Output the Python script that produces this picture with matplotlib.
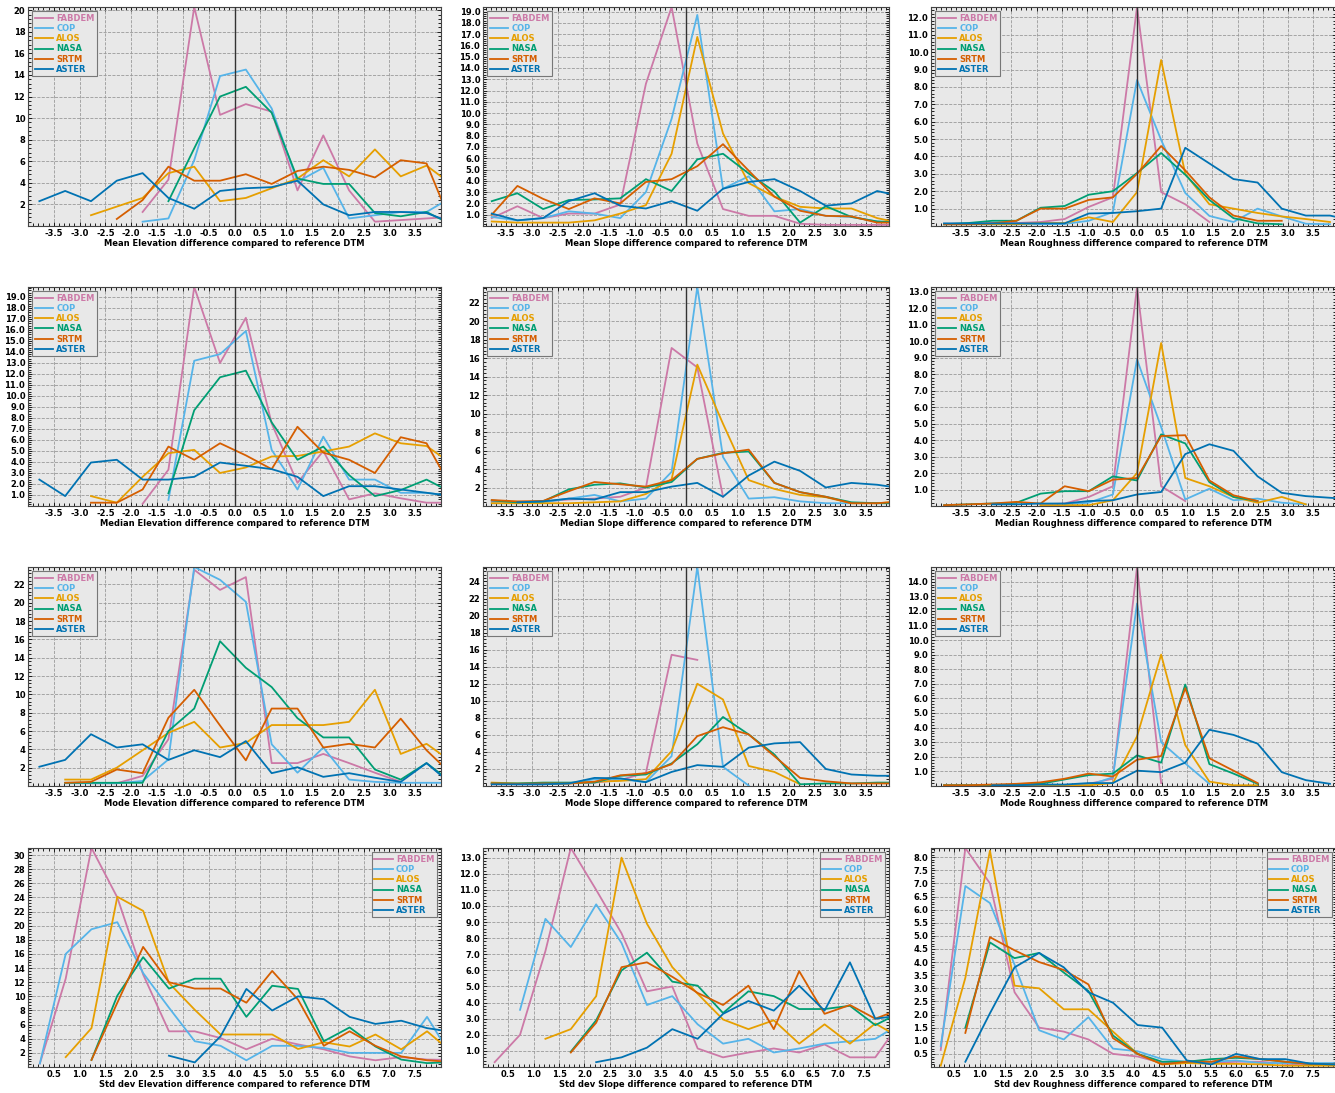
import numpy as np
import matplotlib
matplotlib.use("Agg")
import matplotlib.pyplot as plt
from matplotlib.ticker import AutoMinorLocator

nan = np.nan

dems = ["FABDEM", "COP", "ALOS", "NASA", "SRTM", "ASTER"]
colors = ["#CC79A7", "#56B4E9", "#E69F00", "#009E73", "#D55E00", "#0072B2"]

# bin centres
x_diff = [-3.78, -3.28, -2.78, -2.28, -1.78, -1.28, -0.78, -0.28, 0.22, 0.72,
          1.22, 1.72, 2.22, 2.72, 3.22, 3.72, 4.22]
x_rough = [-3.84, -3.36, -2.88, -2.40, -1.92, -1.44, -0.96, -0.48, 0.0, 0.48,
           0.96, 1.44, 1.92, 2.40, 2.88, 3.36, 3.84, 4.32]
x_std = [0.23, 0.73, 1.23, 1.73, 2.23, 2.73, 3.23, 3.73, 4.23, 4.73, 5.23,
         5.73, 6.23, 6.73, 7.23, 7.73, 8.23]
x_std_rough = [0.24, 0.72, 1.20, 1.68, 2.16, 2.64, 3.12, 3.60, 4.08, 4.56,
               5.04, 5.52, 6.00, 6.48, 6.96, 7.44, 7.92]

# rows follow the order of dems
mean_elevation = [
    [nan, nan, nan, nan, 1.3, 4.3, 20.3, 10.3, 11.3, 10.6, 3.3, 8.4, 3.3, 0.4, 0.55, 0.7, 0.85],
    [nan, nan, nan, nan, 0.4, 0.7, 6.1, 13.9, 14.5, 10.9, 4.1, 5.4, 0.7, 1.0, 1.3, 1.3, 2.7],
    [nan, nan, 1.0, 1.8, 2.6, 4.9, 5.5, 2.3, 2.6, 3.5, 4.4, 6.1, 4.6, 7.1, 4.6, 5.6, 3.8],
    [nan, nan, nan, nan, nan, 2.3, 7.2, 12.0, 12.9, 10.5, 4.4, 3.9, 3.9, 1.2, 0.9, 1.3, 0.1],
    [nan, nan, nan, 0.65, 2.4, 5.5, 4.2, 4.2, 4.8, 3.9, 5.1, 5.5, 5.2, 4.5, 6.1, 5.8, 0.0],
    [2.3, 3.25, 2.3, 4.2, 4.9, 2.6, 1.6, 3.25, 3.5, 3.6, 4.2, 2.0, 1.0, 1.3, 1.3, 1.2, 0.3],
]
mean_slope = [
    [0.7, 1.75, 0.7, 1.1, 1.1, 1.9, 12.6, 19.4, 7.3, 1.5, 0.9, 0.9, 0.2, 0.1, 0.1, 0.1, 0.1],
    [0.8, 0.5, 0.7, 1.3, 1.1, 0.7, 3.0, 9.5, 18.7, 3.3, 4.4, 1.3, 1.5, 0.9, 0.8, 0.4, 0.3],
    [0.4, 0.3, 0.3, 0.3, 0.5, 1.1, 1.85, 6.4, 16.75, 8.2, 3.8, 2.6, 1.7, 1.55, 1.55, 0.7, 0.2],
    [2.2, 2.9, 1.5, 2.3, 2.35, 2.45, 4.15, 3.1, 5.9, 6.4, 4.65, 3.05, 0.3, 1.75, 0.8, 0.4, 0.3],
    [1.0, 3.55, 2.4, 1.5, 2.45, 2.0, 3.9, 4.15, 5.3, 7.25, 4.9, 2.6, 1.35, 0.9, 0.85, 0.3, 0.3],
    [1.1, 0.5, 0.7, 2.2, 2.9, 1.8, 1.55, 2.2, 1.35, 3.3, 3.9, 4.15, 3.1, 1.8, 2.0, 3.1, 2.6],
]
mean_roughness = [
    [0.13, 0.13, 0.17, 0.17, 0.23, 0.4, 1.1, 1.65, 12.6, 1.95, 1.25, 0.23, nan, nan, nan, nan, nan, nan],
    [0.1, 0.1, 0.1, 0.1, 0.1, 0.12, 0.3, 0.8, 8.4, 4.95, 1.9, 0.58, 0.23, 1.0, 0.55, 0.13, 0.1, nan],
    [0.1, 0.1, 0.1, 0.1, 0.17, 0.17, 0.5, 0.23, 1.95, 9.55, 3.0, 1.25, 1.0, 0.75, 0.55, 0.4, 0.23, nan],
    [0.1, 0.17, 0.3, 0.3, 1.05, 1.15, 1.8, 2.0, 3.05, 4.2, 2.95, 1.5, 0.45, 0.15, 0.1, nan, nan, nan],
    [0.1, 0.1, 0.15, 0.3, 1.0, 1.0, 1.5, 1.65, 3.0, 4.6, 3.2, 1.65, 0.6, 0.3, 0.3, nan, nan, nan],
    [0.15, 0.15, 0.15, 0.15, 0.15, 0.15, 0.72, 0.75, 0.85, 1.0, 4.5, 3.6, 2.7, 2.5, 1.0, 0.6, 0.6, 0.3],
]
median_elevation = [
    [nan, nan, nan, nan, 0.2, 3.3, 19.9, 13.0, 17.1, 7.5, 2.1, 5.0, 0.6, 1.15, 0.7, 0.3, 0.3],
    [nan, nan, nan, nan, nan, 0.55, 13.2, 13.8, 15.9, 5.1, 1.5, 6.3, 2.4, 2.4, 1.2, 1.2, 0.9],
    [nan, nan, 0.9, 0.3, 2.65, 4.8, 5.1, 3.0, 3.5, 4.5, 4.55, 4.95, 5.4, 6.6, 5.7, 5.45, 3.8],
    [nan, nan, nan, nan, nan, 1.15, 8.7, 11.7, 12.3, 7.6, 4.2, 5.4, 2.8, 0.9, 1.45, 2.4, 1.2],
    [nan, nan, 0.3, 0.3, 1.5, 5.4, 4.2, 5.7, 4.6, 3.35, 7.2, 4.85, 4.2, 3.0, 6.25, 5.7, 1.5],
    [2.4, 0.9, 3.95, 4.2, 2.4, 2.4, 2.65, 3.95, 3.65, 3.35, 2.65, 0.9, 1.8, 1.8, 1.5, 1.2, 0.9],
]
median_slope = [
    [0.5, 0.4, 0.5, 0.7, 0.8, 1.0, 2.0, 17.1, 15.0, 1.0, nan, nan, nan, nan, nan, nan, nan],
    [0.3, 0.3, 0.4, 0.8, 1.2, 0.5, 0.8, 3.7, 23.7, 5.3, 0.8, 0.95, 0.5, 0.3, 0.3, 0.3, 0.3],
    [0.3, 0.3, 0.3, 0.3, 0.4, 0.5, 1.3, 2.9, 15.3, 8.9, 2.8, 1.85, 1.2, 0.95, 0.3, 0.3, 0.5],
    [0.6, 0.4, 0.5, 1.8, 2.3, 2.45, 2.0, 2.6, 5.1, 5.75, 5.9, 2.5, 1.5, 1.0, 0.4, 0.3, 0.3],
    [0.65, 0.5, 0.55, 1.6, 2.6, 2.35, 2.1, 2.8, 5.1, 5.7, 6.1, 2.5, 1.5, 1.0, 0.3, 0.3, 0.5],
    [nan, 0.4, 0.5, 0.8, 0.7, 1.5, 1.5, 2.1, 2.5, 1.0, 3.3, 4.8, 3.8, 2.0, 2.5, 2.3, 1.9],
]
median_roughness = [
    [nan, nan, nan, nan, 0.1, 0.15, 0.55, 1.2, 13.3, 1.2, 0.3, nan, nan, nan, nan, nan, nan, nan],
    [nan, nan, nan, nan, nan, 0.1, 0.2, 0.7, 8.9, 4.8, 0.4, 1.05, 0.35, 0.45, 0.2, 0.1, nan, nan],
    [nan, nan, nan, nan, 0.05, 0.05, 0.05, 0.35, 2.0, 9.9, 1.7, 1.2, 0.55, 0.2, 0.55, 0.1, nan, nan],
    [0.05, 0.1, 0.15, 0.2, 0.75, 0.9, 0.9, 1.8, 1.55, 4.35, 3.8, 1.45, 0.55, 0.3, nan, nan, nan, nan],
    [0.05, 0.1, 0.15, 0.25, 0.15, 1.2, 0.9, 1.6, 1.7, 4.25, 4.3, 1.55, 0.65, 0.3, nan, nan, nan, nan],
    [nan, nan, 0.1, 0.1, 0.15, 0.15, 0.3, 0.35, 0.7, 0.85, 3.15, 3.75, 3.35, 1.8, 0.8, 0.6, 0.5, 0.4],
]
mode_elevation = [
    [nan, nan, 0.3, 0.3, 1.1, 5.1, 23.6, 21.4, 22.8, 2.5, 2.5, 3.5, 2.5, 1.45, 0.45, nan, nan],
    [nan, 0.3, 0.3, 0.3, 0.55, 2.9, 23.9, 22.5, 20.1, 4.55, 1.45, 4.2, 0.7, 0.45, 0.35, 0.35, 0.35],
    [nan, 0.7, 0.7, 2.0, 3.9, 5.8, 7.0, 4.2, 4.7, 6.65, 6.65, 6.65, 7.0, 10.5, 3.5, 4.6, 2.6],
    [nan, 0.35, 0.35, 0.35, 0.35, 6.0, 8.45, 15.8, 12.9, 10.8, 7.4, 5.3, 5.3, 1.8, 0.7, 2.5, 0.35],
    [nan, 0.35, 0.45, 1.8, 1.4, 7.45, 10.5, 6.6, 2.8, 8.45, 8.45, 4.2, 4.6, 4.2, 7.35, 3.9, 1.2],
    [2.1, 2.85, 5.65, 4.2, 4.55, 2.85, 3.9, 3.15, 4.9, 1.4, 2.05, 1.0, 1.4, 0.9, 0.45, 2.5, 0.1],
]
mode_slope = [
    [0.2, 0.2, 0.2, 0.3, 0.4, 0.7, 1.55, 15.4, 14.8, nan, nan, nan, nan, nan, nan, nan, nan],
    [0.3, 0.2, 0.2, 0.3, 0.8, 0.8, 0.45, 3.5, 25.7, 2.25, 0.05, nan, nan, nan, nan, nan, nan],
    [0.4, 0.3, 0.3, 0.3, 0.5, 0.6, 0.8, 4.1, 12.0, 10.15, 2.35, 1.65, 0.2, nan, nan, nan, nan],
    [0.3, 0.3, 0.4, 0.4, 0.4, 1.2, 1.35, 2.65, 4.9, 8.1, 6.05, 3.7, 0.2, 0.3, 0.3, 0.4, 0.4],
    [0.3, 0.25, 0.3, 0.3, 0.5, 1.25, 1.5, 2.55, 5.85, 6.9, 6.05, 3.5, 0.95, 0.55, 0.3, 0.3, 0.3],
    [0.2, 0.2, 0.2, 0.3, 0.95, 0.9, 0.45, 1.65, 2.45, 2.25, 4.5, 5.0, 5.15, 2.0, 1.35, 1.2, 1.2],
]
mode_roughness = [
    [0.05, 0.05, 0.05, 0.05, 0.05, 0.05, 0.15, 0.5, 15.0, 0.2, nan, nan, nan, nan, nan, nan, nan, nan],
    [0.05, 0.05, 0.05, 0.05, 0.05, 0.05, 0.05, 0.6, 12.5, 3.0, 1.55, 0.15, nan, nan, nan, nan, nan, nan],
    [0.05, 0.05, 0.05, 0.05, 0.05, 0.05, 0.05, 0.2, 3.4, 9.0, 2.8, 0.3, 0.05, 0.05, nan, nan, nan, nan],
    [0.05, 0.05, 0.05, 0.1, 0.15, 0.45, 0.75, 0.85, 2.1, 1.6, 6.95, 1.5, 0.85, 0.15, nan, nan, nan, nan],
    [0.05, 0.05, 0.1, 0.15, 0.25, 0.5, 0.85, 0.65, 1.8, 2.05, 6.7, 1.9, 1.05, 0.2, nan, nan, nan, nan],
    [nan, nan, 0.05, 0.05, 0.1, 0.1, 0.2, 0.2, 1.05, 0.95, 1.6, 3.85, 3.5, 2.9, 0.95, 0.4, 0.15, nan],
]
std_elevation = [
    [0.5, 12.5, 31.0, 24.0, 13.1, 5.05, 5.05, 4.1, 2.5, 4.0, 3.2, 2.5, 1.5, 0.95, 1.4, 1.05, 1.0],
    [0.5, 16.0, 19.5, 20.5, 13.3, 8.4, 3.65, 3.0, 0.95, 3.0, 3.0, 2.7, 2.0, 2.0, 2.0, 7.1, 1.2],
    [nan, 1.4, 5.5, 24.1, 22.1, 11.9, 8.1, 4.6, 4.6, 4.6, 2.55, 3.5, 2.9, 4.6, 2.5, 5.05, 2.0],
    [nan, nan, 1.0, 10.1, 15.55, 11.1, 12.5, 12.5, 7.1, 11.5, 11.05, 3.65, 5.6, 2.9, 1.05, 0.55, 0.7],
    [nan, nan, 1.0, 9.1, 17.0, 12.0, 11.1, 11.1, 9.1, 13.6, 9.55, 3.0, 5.05, 3.0, 1.5, 0.95, 0.7],
    [nan, nan, nan, nan, nan, 1.6, 0.65, 4.35, 11.05, 8.0, 10.0, 9.6, 7.1, 6.1, 6.55, 5.5, 4.95],
]
std_slope = [
    [0.3, 2.0, 7.2, 13.6, 11.0, 8.3, 4.7, 5.0, 1.15, 0.6, 0.9, 1.15, 0.9, 1.4, 0.6, 0.6, 2.8],
    [nan, 3.55, 9.2, 7.45, 10.1, 7.7, 3.85, 4.4, 2.65, 1.45, 1.75, 0.9, 1.15, 1.45, 1.6, 1.75, 2.7],
    [nan, nan, 1.75, 2.35, 4.4, 13.0, 8.9, 6.2, 4.55, 2.95, 2.35, 2.9, 1.45, 2.65, 1.45, 2.7, 1.8],
    [nan, nan, nan, 0.95, 2.9, 6.0, 7.1, 5.3, 5.05, 3.35, 4.7, 4.4, 3.6, 3.6, 3.8, 2.6, 3.4],
    [nan, nan, nan, 0.9, 2.75, 6.2, 6.5, 5.6, 4.6, 3.85, 5.05, 2.35, 5.95, 3.3, 3.85, 3.0, 3.6],
    [nan, nan, nan, nan, 0.3, 0.6, 1.2, 2.35, 1.75, 3.3, 4.1, 3.5, 5.05, 3.5, 6.5, 3.0, 3.2],
]
std_roughness = [
    [0.65, 8.35, 7.0, 2.85, 1.5, 1.35, 1.05, 0.5, 0.4, 0.15, 0.15, 0.15, 0.2, 0.2, 0.12, 0.1, 0.1],
    [0.8, 6.9, 6.25, 3.9, 1.4, 1.05, 1.9, 0.7, 0.6, 0.3, 0.2, 0.2, 0.25, 0.15, 0.15, 0.15, 0.15],
    [0.05, 3.4, 8.25, 3.1, 3.0, 2.2, 2.2, 1.35, 0.5, 0.1, 0.15, 0.12, 0.12, 0.1, 0.05, 0.05, 0.05],
    [nan, 1.5, 4.75, 4.15, 4.35, 3.6, 2.9, 1.2, 0.5, 0.2, 0.2, 0.3, 0.35, 0.3, 0.2, 0.12, 0.1],
    [nan, 1.3, 4.95, 4.45, 4.0, 3.7, 3.15, 1.1, 0.5, 0.1, 0.2, 0.2, 0.4, 0.3, 0.2, 0.12, 0.1],
    [nan, 0.2, 2.05, 3.8, 4.35, 3.8, 2.85, 2.45, 1.6, 1.5, 0.25, 0.1, 0.5, 0.3, 0.3, 0.13, 0.1],
]

row_names = ["Mean", "Median", "Mode", "Std dev"]
col_names = ["Elevation", "Slope", "Roughness"]

panels = [
    [(x_diff, mean_elevation), (x_diff, mean_slope), (x_rough, mean_roughness)],
    [(x_diff, median_elevation), (x_diff, median_slope), (x_rough, median_roughness)],
    [(x_diff, mode_elevation), (x_diff, mode_slope), (x_rough, mode_roughness)],
    [(x_std, std_elevation), (x_std, std_slope), (x_std_rough, std_roughness)],
]
# y tick step per panel (row, col)
ysteps = [[2, 1, 1], [1, 2, 1], [2, 2, 1], [2, 1, 0.5]]

plt.rcParams["font.family"] = "DejaVu Sans"
plt.rcParams["font.weight"] = "bold"

W, H = 1335, 1093
fig = plt.figure(figsize=(W / 100, H / 100), dpi=100)

col_px = [(28, 441), (483, 889), (931, 1336)]
row_px = [(7, 226), (287, 506), (567, 786), (848, 1067)]
diff_xlim = [(-4.0, 4.0), (-3.95, 3.95), (-4.1, 3.96)]
std_xlim = [(0, 8), (0, 8), (0.05, 7.95)]

for r in range(4):
    for c in range(3):
        x0, x1 = col_px[c]
        y0, y1 = row_px[r]
        ax = fig.add_axes([x0 / W, 1 - y1 / H, (x1 - x0) / W, (y1 - y0) / H])
        ax.set_facecolor("#e8e8e8")
        xs, data = panels[r][c]
        xs = np.array(xs)
        ymax = 0
        for name, col, vals in zip(dems, colors, data):
            vals = np.array(vals, dtype=float)
            ax.plot(xs, vals, color=col, lw=1.3, label=name)
            ymax = max(ymax, np.nanmax(vals))
        step = ysteps[r][c]
        ax.set_ylim(0, ymax)
        yt = np.arange(step, ymax, step)
        ax.set_yticks(yt)
        fmt = "{:.0f}" if step >= 2 else "{:.1f}"
        ax.set_yticklabels([fmt.format(v) for v in yt])
        if r < 3:
            ax.set_xlim(*diff_xlim[c])
            ticks = np.arange(-3.5, 3.51, 0.5)
            ax.axvline(0, color="#333333", lw=1.0, zorder=5)
            loc = "upper left"
        else:
            ax.set_xlim(*std_xlim[c])
            ticks = np.arange(0.5, 7.51, 0.5)
            loc = "upper right"
        ax.set_xticks(ticks)
        ax.set_xticklabels(["{:.1f}".format(t) for t in ticks])
        ax.xaxis.set_minor_locator(AutoMinorLocator(5))
        ax.yaxis.set_minor_locator(AutoMinorLocator(5))
        ax.tick_params(which="both", direction="in", top=True, right=True,
                       labelsize=6, width=0.6, pad=2)
        ax.tick_params(which="major", length=3)
        ax.tick_params(which="minor", length=2)
        ax.grid(which="major", ls="--", color="#9a9a9a", lw=0.6)
        for s in ax.spines.values():
            s.set_color("#444444")
            s.set_linewidth(0.8)
        ax.set_xlabel(f"{row_names[r]} {col_names[c]} difference compared to reference DTM",
                      fontsize=6, fontweight="bold", labelpad=1)
        leg = ax.legend(loc=loc, fontsize=6, handlelength=2.2, labelspacing=0.15,
                        borderpad=0.3, borderaxespad=0.5, handletextpad=0.4,
                        fancybox=False, framealpha=1, facecolor="#e8e8e8",
                        edgecolor="#777777")
        leg.get_frame().set_linewidth(0.8)
        for txt, col in zip(leg.get_texts(), colors):
            txt.set_color(col)
            txt.set_fontweight("bold")

fig.savefig("out.png", dpi=100)
